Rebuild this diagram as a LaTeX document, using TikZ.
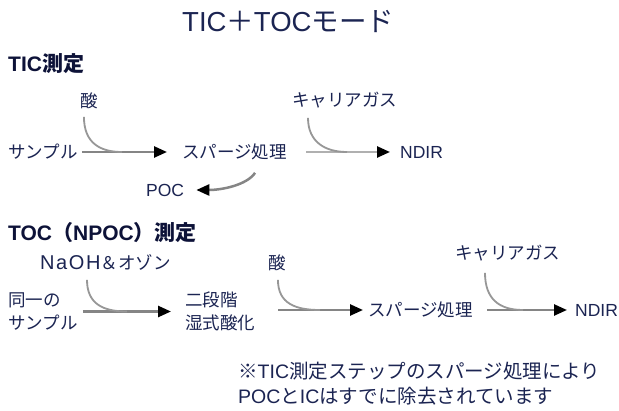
\documentclass[tikz,border=0pt]{standalone}
\usepackage{fontspec}
\setmainfont{Liberation Sans}
\newfontfamily\jpf{Noto Sans CJK JP}
\newcommand\J[1]{{\jpf #1}}
\usetikzlibrary{arrows.meta}
\definecolor{txt}{HTML}{1B2452}
\definecolor{hd}{HTML}{0D1238}
\definecolor{ln}{HTML}{858585}
\tikzset{
  lbl/.style={inner sep=0pt, anchor=west, text=txt, font=\fontsize{17.5}{20}\selectfont, text height=13.3pt, text depth=0pt},
  lbltwo/.style={inner sep=0pt, anchor=west, text=txt, align=left, font=\fontsize{17.5}{23}\selectfont},
  headtxt/.style={inner sep=0pt, anchor=west, text=hd, font=\fontsize{21}{24}\selectfont\bfseries, text height=16pt, text depth=0pt},
  titletxt/.style={inner sep=0pt, anchor=west, text=txt, font=\fontsize{27.5}{31}\selectfont, text height=20.9pt, text depth=0pt},
  notetxt/.style={inner sep=0pt, anchor=west, text=txt, font=\fontsize{19.5}{23}\selectfont, text height=14.8pt, text depth=0pt},
  flow/.style={draw=ln, line width=2.5pt, -{Triangle[length=13pt,width=11pt,black]}},
  flowlight/.style={flow, draw=ln!65},
  feed/.style={draw=ln!85, line width=1.8pt},
}
\begin{document}
\begin{tikzpicture}[x=1pt,y=-1pt]
\useasboundingbox[fill=white] (0,0) rectangle (619,411);

% title and headings
\node[titletxt] (title) at (182,21) {TIC\J{＋}TOC\J{モード}};
\node[headtxt] (h1) at (8,64) {TIC\J{測定}};
\node[headtxt] (h2) at (8,233) {TOC\J{（}NPOC\J{）測定}};

% TIC row
\node[lbl] (acid1) at (80,101) {\J{酸}};
\node[lbl] (samp1) at (8,152) {\J{サンプル}};
\node[lbl] (spg1) at (182,152) {\J{スパージ処理}};
\node[lbl] (car1) at (292,100) {\J{キャリアガス}};
\node[lbl] (ndir1) at (400,152) {NDIR};
\node[lbl] (poc) at (146,190) {POC};

\coordinate (m1) at (122,152);
\coordinate (m2) at (347,152);

\draw[flow] ([xshift=4pt]samp1.east) -- ([xshift=-15pt]spg1.west);
\draw[feed] ([shift={(-5,9)}]acid1.south) .. controls +(0,26) and +(-22,0) .. (m1);
\draw[flowlight] ([xshift=19pt]spg1.east) -- ([xshift=-10pt]ndir1.west);
\draw[feed] ([shift={(16,11)}]car1.south west) .. controls +(0,24) and +(-22,0) .. (m2);
\draw[flow] ([shift={(-32,14)}]spg1.south east) .. controls +(-8,12) and +(26,0) .. ([xshift=12pt]poc.east);

% TOC row
\node[lbl] (naoh) at (40,263) {{\fontsize{20}{22}\selectfont\addfontfeature{LetterSpace=8}NaOH}\J{＆オゾン}};
\node[lbl] (acid2) at (268,263) {\J{酸}};
\node[lbl] (car2) at (455,253) {\J{キャリアガス}};
\node[lbltwo] (samp2) at (8,311.5) {\J{同一の}\\\J{サンプル}};
\node[lbltwo] (nidan) at (185,311.5) {\J{二段階}\\\J{湿式酸化}};
\node[lbl] (spg2) at (368,310) {\J{スパージ処理}};
\node[lbl] (ndir2) at (575,310) {NDIR};

\coordinate (m3) at (127,311.5);
\coordinate (m4) at (320,310);
\coordinate (m5) at (523,310);

\draw[flow] ([xshift=5pt]samp2.east) -- ([xshift=-14pt]nidan.west);
\draw[feed] ([shift={(47,10)}]naoh.south west) .. controls +(0,24) and +(-24,0) .. (m3);
\draw[flow] ([xshift=23pt]nidan.east |- spg2.west) -- ([xshift=-5pt]spg2.west);
\draw[feed] ([shift={(1,10)}]acid2.south) .. controls +(0,24) and +(-24,0) .. (m4);
\draw[flow] ([xshift=14pt]spg2.east) -- ([xshift=-8pt]ndir2.west);
\draw[feed] ([shift={(30,13)}]car2.south west) .. controls +(0,26) and +(-24,0) .. (m5);

% note
\node[notetxt] (n1) at (238,371) {\J{※}TIC\J{測定ステップのスパージ処理により}};
\node[notetxt] (n2) at (238,396) {POC\J{と}IC\J{はすでに除去されています}};
\end{tikzpicture}
\end{document}
